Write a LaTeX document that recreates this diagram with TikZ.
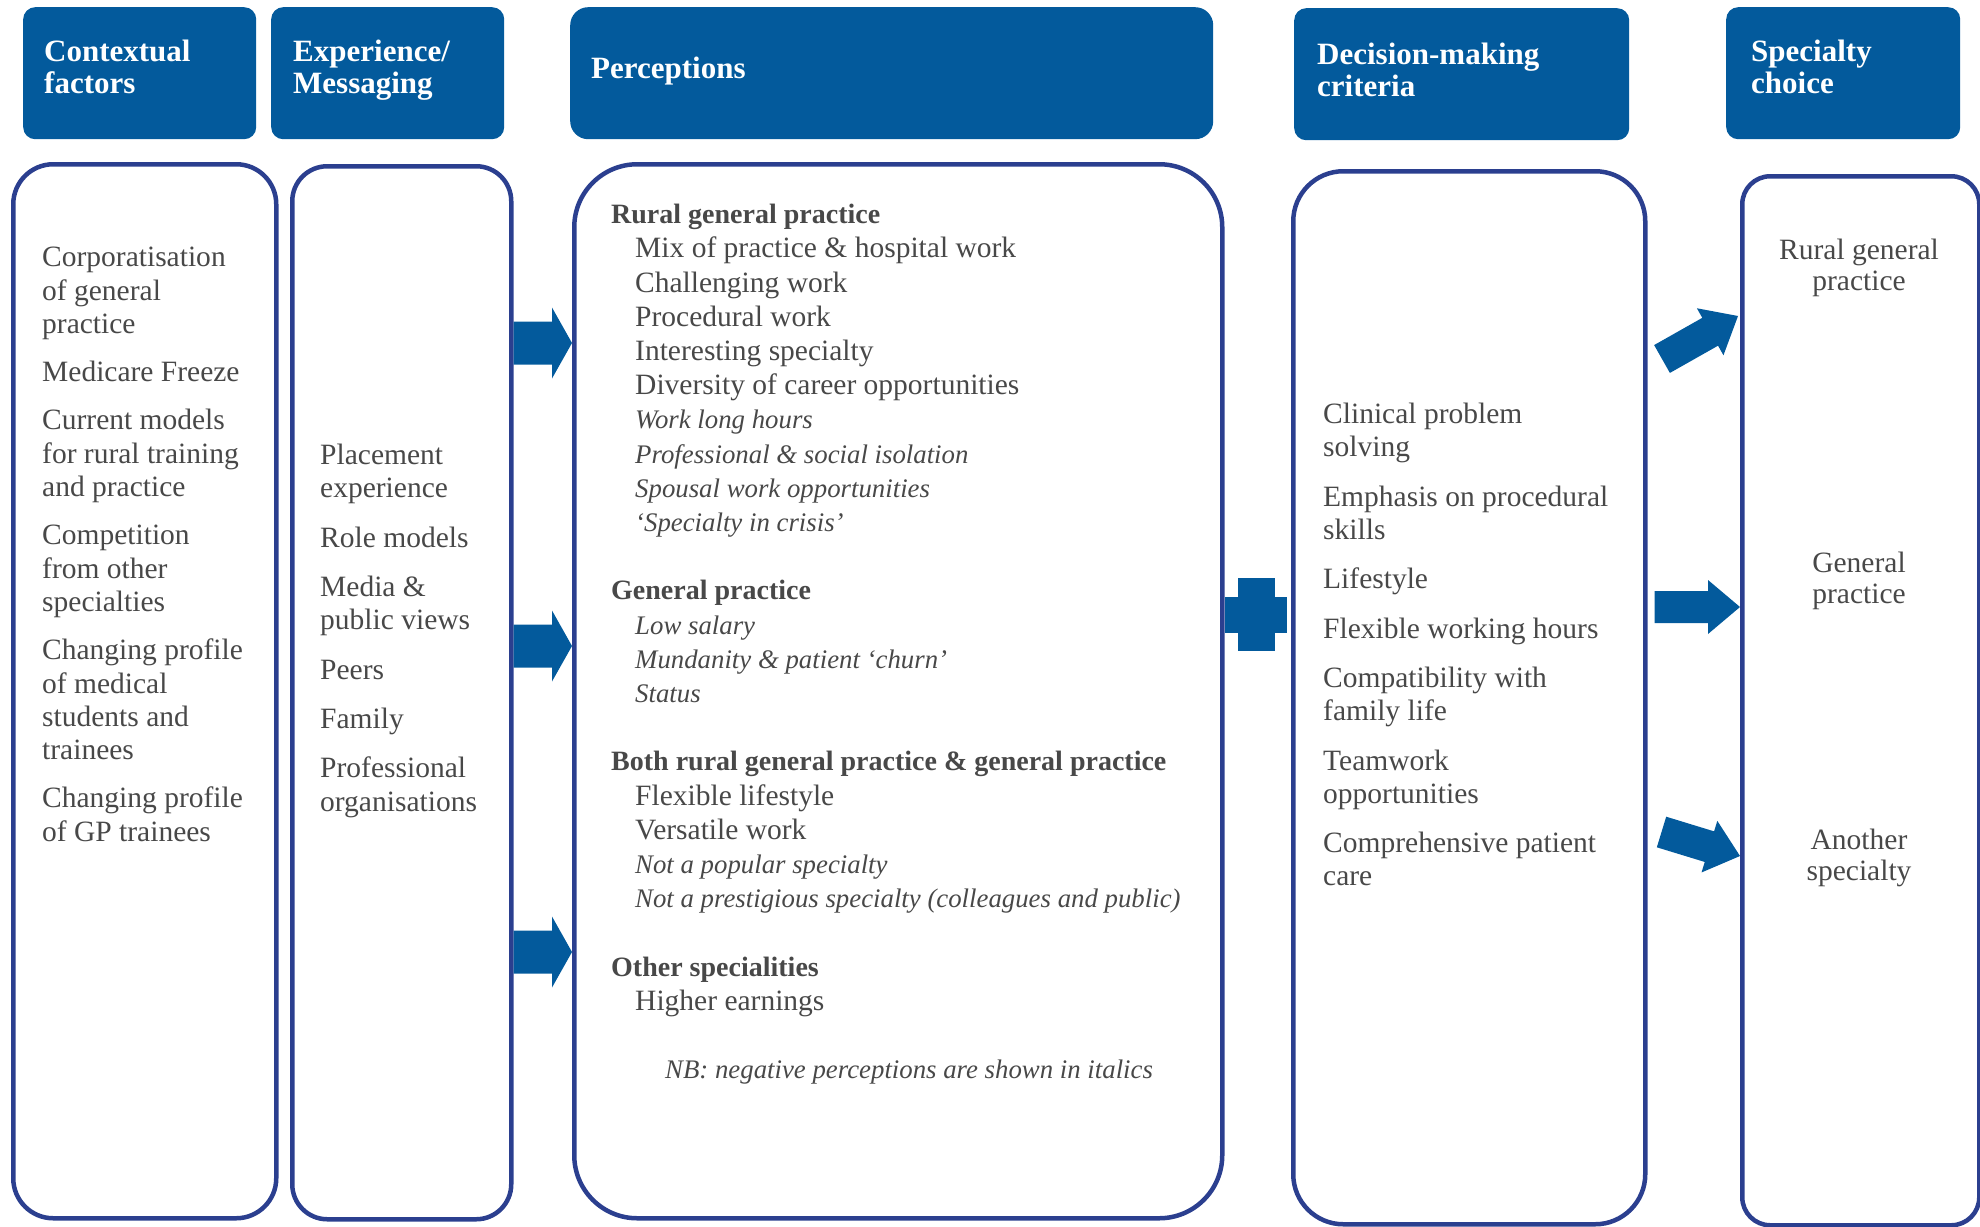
\documentclass[tikz,border=0pt]{standalone}
\usepackage{fontspec}
\setmainfont{Liberation Serif}
\usetikzlibrary{positioning, calc}
\definecolor{hblue}{HTML}{035A9C}
\definecolor{lblue}{HTML}{2B3F8F}
\definecolor{tgrey}{HTML}{484848}
\tikzset{
  headbox/.style={fill=hblue, draw=none, rounded corners=#1, inner sep=0pt, anchor=north west},
  headbox/.default=12pt,
  headtext/.style={text=white, font=\fontsize{31}{32}\selectfont\bfseries, align=left, inner sep=0pt, anchor=north west},
  bodybox/.style={draw=lblue, line width=4.5pt, rounded corners=#1, inner sep=0pt, anchor=north west},
  bodytext/.style={text=tgrey, font=\fontsize{29.5}{33.3}\selectfont, align=left, inner sep=0pt, anchor=north west},
  choice/.style={text=tgrey, font=\fontsize{29.5}{30.5}\selectfont, align=center, inner sep=0pt, anchor=north},
}
\newcommand{\perhead}[1]{{\fontsize{28}{34.2}\selectfont\bfseries #1}}
\newcommand{\negitem}[1]{{\fontsize{26.8}{34.2}\selectfont\itshape #1}}
% tail, tip, half shaft, half head, head length
\newcommand{\blockarrow}[5]{%
  \coordinate (ab) at ($(#2)!#5!(#1)$);
  \fill[hblue] ($(#1)!#3!90:(#2)$) -- ($(ab)!#3!-90:(#1)$) -- ($(ab)!#4!-90:(#1)$) -- (#2)
    -- ($(ab)!#4!90:(#1)$) -- ($(ab)!#3!90:(#1)$) -- ($(#1)!#3!-90:(#2)$) -- cycle;
}

\begin{document}
\begin{tikzpicture}[x=1pt, y=-1pt]
  \useasboundingbox (0,0) rectangle (1980,1226);
  % column heads
  \node[headbox, minimum width=233, minimum height=132] (hctx) at (23,7) {};
  \node[headbox, minimum width=233, minimum height=132] (hexp) at (271,7) {};
  \node[headbox=18pt, minimum width=643, minimum height=132] (hper) at (570,7) {};
  \node[headbox, minimum width=335, minimum height=132] (hdec) at (1294,8) {};
  \node[headbox, minimum width=234, minimum height=132] (hspec) at (1726,7) {};
  \node[headtext, below right=33pt and 21pt of hctx.north west] (tctx) {Contextual\\factors};
  \node[headtext, below right=33pt and 22pt of hexp.north west] (texp) {Experience/\\Messaging};
  \node[headtext, below right=50pt and 21pt of hper.north west] (tper) {Perceptions};
  \node[headtext, below right=35pt and 23pt of hdec.north west] (tdec) {Decision-making\\criteria};
  \node[headtext, below right=33pt and 25pt of hspec.north west] (tspec) {Specialty\\choice};

  % column bodies
  \node[bodybox=40pt, minimum width=263, minimum height=1054] (bctx) at (11,162) {};
  \node[bodybox=35pt, minimum width=219, minimum height=1053] (bexp) at (290,164) {};
  \node[bodybox=63pt, minimum width=648, minimum height=1054] (bper) at (572,162) {};
  \node[bodybox=50pt, minimum width=352, minimum height=1053] (bdec) at (1291,169) {};
  \node[bodybox=28pt, minimum width=237, minimum height=1049] (bspec) at (1740,174) {};

  \node[bodytext, below right=85pt and 31pt of bctx.north west] (lctx) {%
    Corporatisation\\of general\\practice\\[15pt]
    Medicare Freeze\\[15pt]
    Current models\\for rural training\\and practice\\[15pt]
    Competition\\from other\\specialties\\[15pt]
    Changing profile\\of medical\\students and\\trainees\\[15pt]
    Changing profile\\of GP trainees};
  \node[bodytext, below right=280pt and 30pt of bexp.north west] (lexp) {%
    Placement\\experience\\[16pt]
    Role models\\[16pt]
    Media \&\\public views\\[16pt]
    Peers\\[16pt]
    Family\\[16pt]
    Professional\\organisations};
  \node[bodytext, font=\fontsize{29.5}{34.2}\selectfont, below right=42pt and 39pt of bper.north west] (lper) {%
    \perhead{Rural general practice}\\
    \hspace*{24pt}Mix of practice \& hospital work\\
    \hspace*{24pt}Challenging work\\
    \hspace*{24pt}Procedural work\\
    \hspace*{24pt}Interesting specialty\\
    \hspace*{24pt}Diversity of career opportunities\\
    \hspace*{24pt}\negitem{Work long hours}\\
    \hspace*{24pt}\negitem{Professional \& social isolation}\\
    \hspace*{24pt}\negitem{Spousal work opportunities}\\
    \hspace*{24pt}\negitem{`Specialty in crisis'}\\[34.2pt]
    \perhead{General practice}\\
    \hspace*{24pt}\negitem{Low salary}\\
    \hspace*{24pt}\negitem{Mundanity \& patient `churn'}\\
    \hspace*{24pt}\negitem{Status}\\[34.2pt]
    \perhead{Both rural general practice \& general practice}\\
    \hspace*{24pt}Flexible lifestyle\\
    \hspace*{24pt}Versatile work\\
    \hspace*{24pt}\negitem{Not a popular specialty}\\
    \hspace*{24pt}\negitem{Not a prestigious specialty (colleagues and public)}\\[34.2pt]
    \perhead{Other specialities}\\
    \hspace*{24pt}Higher earnings\\[34.2pt]
    \hspace*{54pt}\negitem{NB: negative perceptions are shown in italics}};
  \node[bodytext, below right=234pt and 32pt of bdec.north west] (ldec) {%
    Clinical problem\\solving\\[16pt]
    Emphasis on procedural\\skills\\[16pt]
    Lifestyle\\[16pt]
    Flexible working hours\\[16pt]
    Compatibility with\\family life\\[16pt]
    Teamwork\\opportunities\\[16pt]
    Comprehensive patient\\care};

  % specialty choices
  \node[choice] (rgp) at (1859,239) {Rural general\\practice};
  \node[choice] (gp) at (1859,552) {General\\practice};
  \node[choice] (other) at (1859,829) {Another\\specialty};

  % arrows into perceptions
  \foreach \y [count=\i] in {343, 646, 952} {
    \coordinate (pa\i) at (bexp.east |- 0,\y);
    \coordinate (pb\i) at (bper.west |- 0,\y);
    \blockarrow{pa\i}{pb\i}{21.5pt}{35.5pt}{20pt}
  }
  % plus sign
  \fill[hblue] (1225,597) rectangle (1287,633);
  \fill[hblue] (1238,578) rectangle (1275,651);
  % arrows to the choices
  \coordinate (ca1) at ($(bdec.east |- 0,359)+(14.5,0)$);
  \coordinate (cb1) at ($(bspec.west |- 0,316)+(-2,0)$);
  \coordinate (ca2) at ($(bdec.east |- 0,607)+(7,0)$);
  \coordinate (cb2) at (bspec.west |- 0,607);
  \coordinate (ca3) at ($(bdec.east |- 0,832)+(14,0)$);
  \coordinate (cb3) at (bspec.west |- 0,856);
  \foreach \i in {1,2,3} {
    \blockarrow{ca\i}{cb\i}{16pt}{27pt}{32pt}
  }
\end{tikzpicture}
\end{document}
